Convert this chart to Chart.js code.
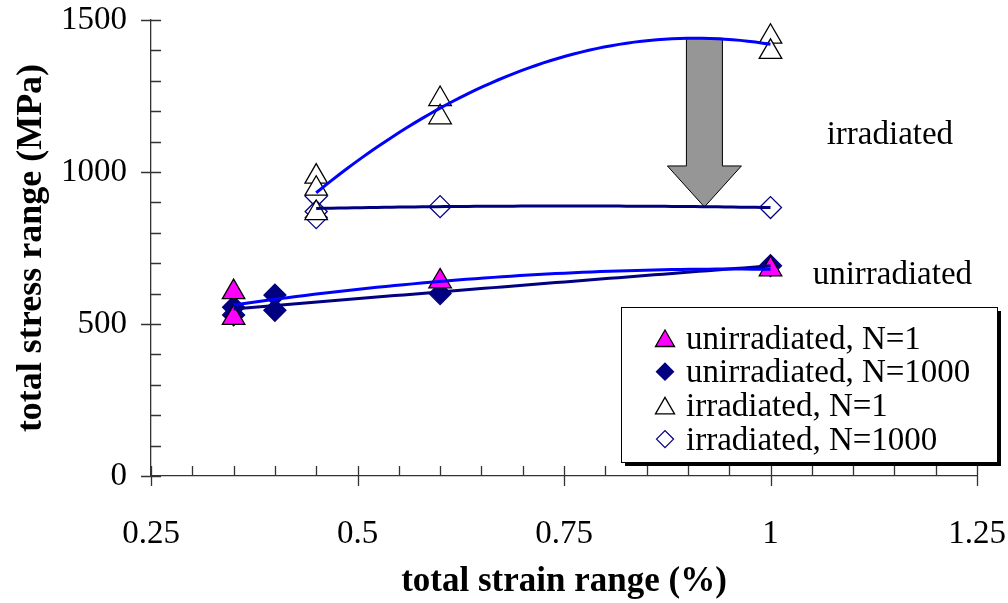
<!DOCTYPE html>
<html>
<head>
<meta charset="utf-8">
<script src="https://cdn.jsdelivr.net/npm/chart.js@4"></script>
<style>
  body { margin: 0; background: #fff; }
</style>
</head>
<body>
<canvas id="chart" width="1008" height="603"></canvas>
<script>
// values
const strainUnirrN1 = [0.35, 0.35, 0.6, 1.0];
const stressUnirrN1 = [605, 520, 640, 680];

const strainUnirrN1000 = [0.35, 0.35, 0.4, 0.4, 0.6, 1.0];
const stressUnirrN1000 = [555, 530, 595, 545, 600, 692];

const strainIrrN1 = [0.45, 0.45, 0.45, 0.6, 0.6, 1.0, 1.0];
const stressIrrN1 = [985, 945, 865, 1240, 1180, 1445, 1395];

const strainIrrN1000 = [0.45, 0.45, 0.45, 0.6, 1.0];
const stressIrrN1000 = [920, 870, 850, 886, 883];

const xTicks = [0.25, 0.5, 0.75, 1, 1.25];
const xTickLabels = ["0.25", "0.5", "0.75", "1", "1.25"];
const yTicks = [0, 500, 1000, 1500];
const yTickLabels = ["0", "500", "1000", "1500"];

const SERIF = "'Liberation Serif', 'Times New Roman', serif";

const toPoints = (xs, ys) => xs.map((x, i) => ({ x: x, y: ys[i] }));

// least squares polynomial, like the spreadsheet trendlines
const polyFit = (xs, ys, degree) => {
    const n = degree + 1;
    const A = Array.from({ length: n }, () => new Array(n).fill(0));
    const b = new Array(n).fill(0);
    xs.forEach((x, k) => {
        for (let i = 0; i < n; i++) {
            for (let j = 0; j < n; j++) A[i][j] += Math.pow(x, i + j);
            b[i] += ys[k] * Math.pow(x, i);
        }
    });
    for (let i = 0; i < n; i++) {
        for (let r = i + 1; r < n; r++) {
            const f = A[r][i] / A[i][i];
            for (let c = i; c < n; c++) A[r][c] -= f * A[i][c];
            b[r] -= f * b[i];
        }
    }
    const coef = new Array(n).fill(0);
    for (let i = n - 1; i >= 0; i--) {
        let s = b[i];
        for (let c = i + 1; c < n; c++) s -= A[i][c] * coef[c];
        coef[i] = s / A[i][i];
    }
    return coef;
};

const trendLine = (xs, ys, degree) => {
    const coef = polyFit(xs, ys, degree);
    const lo = Math.min(...xs);
    const hi = Math.max(...xs);
    const steps = 60;
    const pts = [];
    for (let s = 0; s <= steps; s++) {
        const x = lo + (hi - lo) * s / steps;
        pts.push({ x: x, y: coef.reduce((acc, c, i) => acc + c * Math.pow(x, i), 0) });
    }
    return pts;
};

const markerSet = (label, xs, ys, style, radius, fill, stroke) => ({
    label: label,
    type: "scatter",
    data: toPoints(xs, ys),
    pointStyle: style,
    pointRadius: radius,
    pointHoverRadius: radius,
    backgroundColor: fill,
    borderColor: stroke,
    pointBorderWidth: 1.3,
    order: 2,
    isMarker: true,
});

const trendSet = (xs, ys, color) => ({
    type: "line",
    data: trendLine(xs, ys, 2),
    borderColor: color,
    borderWidth: 3,
    pointRadius: 0,
    fill: false,
    tension: 0,
    order: 1,
});

const datasets = [
    markerSet("unirradiated, N=1", strainUnirrN1, stressUnirrN1, "triangle", 13, "#ff00ff", "#000000"),
    markerSet("unirradiated, N=1000", strainUnirrN1000, stressUnirrN1000, "rectRot", 11, "#000080", "#000080"),
    markerSet("irradiated, N=1", strainIrrN1, stressIrrN1, "triangle", 13, "#ffffff", "#000000"),
    markerSet("irradiated, N=1000", strainIrrN1000, stressIrrN1000, "rectRot", 11, "#ffffff", "#000080"),
    trendSet(strainUnirrN1, stressUnirrN1, "#0000ff"),
    trendSet(strainUnirrN1000, stressUnirrN1000, "#000080"),
    trendSet(strainIrrN1, stressIrrN1, "#0000ff"),
    trendSet(strainIrrN1000, stressIrrN1000, "#000080"),
];

const tickLabel = (ticks, labels) => (value) => {
    const i = ticks.findIndex(t => Math.abs(t - value) < 1e-6);
    return i >= 0 ? labels[i] : "";
};

// axis ticks (crossing majors, inside minors)
const axisTicks = {
    id: "axisTicks",
    afterDraw(chart) {
        const { ctx, chartArea, scales } = chart;
        ctx.save();
        ctx.strokeStyle = "#333";
        ctx.lineWidth = 1.3;
        ctx.beginPath();
        for (let i = 0; i <= 20; i++) {
            const v = 0.25 + i * 0.05;
            const px = Math.round(scales.x.getPixelForValue(v)) + 0.5;
            const major = i % 5 === 0;
            ctx.moveTo(px, chartArea.bottom - 10);
            ctx.lineTo(px, chartArea.bottom + (major ? 10 : 0));
        }
        for (let i = 0; i <= 15; i++) {
            const py = Math.round(scales.y.getPixelForValue(i * 100)) + 0.5;
            const major = i % 5 === 0;
            ctx.moveTo(chartArea.left - (major ? 10 : 0), py);
            ctx.lineTo(chartArea.left + 10, py);
        }
        ctx.stroke();
        ctx.restore();
    },
};

// grey arrow between the two irradiated curves
const arrowPlugin = {
    id: "arrow",
    beforeDatasetsDraw(chart, args, opts) {
        const { ctx, scales } = chart;
        const cx = scales.x.getPixelForValue(opts.x);
        const top = scales.y.getPixelForValue(opts.from);
        const tip = scales.y.getPixelForValue(opts.to);
        const shaft = 18, head = 37, headH = 41;
        ctx.save();
        ctx.beginPath();
        ctx.moveTo(cx - shaft, top);
        ctx.lineTo(cx + shaft, top);
        ctx.lineTo(cx + shaft, tip - headH);
        ctx.lineTo(cx + head, tip - headH);
        ctx.lineTo(cx, tip);
        ctx.lineTo(cx - head, tip - headH);
        ctx.lineTo(cx - shaft, tip - headH);
        ctx.closePath();
        ctx.fillStyle = "#969696";
        ctx.fill();
        ctx.strokeStyle = "#000";
        ctx.lineWidth = 1;
        ctx.stroke();
        ctx.restore();
    },
};

const notesPlugin = {
    id: "notes",
    afterDraw(chart, args, opts) {
        const { ctx, scales } = chart;
        ctx.save();
        ctx.font = "33px " + SERIF;
        ctx.fillStyle = "#000";
        ctx.textBaseline = "alphabetic";
        ctx.textAlign = "left";
        opts.items.forEach(n => {
            ctx.fillText(n.text, scales.x.getPixelForValue(n.x), scales.y.getPixelForValue(n.y));
        });
        ctx.restore();
    },
};

const boxLegend = {
    id: "boxLegend",
    afterDraw(chart, args, opts) {
        const { ctx } = chart;
        const items = chart.data.datasets.filter(d => d.isMarker);
        const { left, top, width, height } = opts;
        ctx.save();
        ctx.fillStyle = "#000";
        ctx.fillRect(left + 4, top + 4, width, height);
        ctx.fillStyle = "#fff";
        ctx.fillRect(left, top, width, height);
        ctx.strokeStyle = "#000";
        ctx.lineWidth = 1;
        ctx.strokeRect(left + 0.5, top + 0.5, width, height);
        ctx.font = "33px " + SERIF;
        ctx.textBaseline = "middle";
        items.forEach((d, i) => {
            const y = top + 31 + i * 33.7;
            ctx.fillStyle = d.backgroundColor;
            ctx.strokeStyle = d.borderColor;
            ctx.lineWidth = 1.3;
            const r = d.pointStyle === "triangle" ? 11 : 8.5;
            Chart.helpers.drawPoint(ctx, { pointStyle: d.pointStyle, radius: r, rotation: 0, borderWidth: 1.3 }, left + 44, y + (d.pointStyle === "triangle" ? 3 : 0));
            ctx.fillStyle = "#000";
            ctx.fillText(d.label, left + 65, y + 2);
        });
        ctx.restore();
    },
};

new Chart(document.getElementById("chart"), {
    type: "scatter",
    data: { datasets: datasets },
    plugins: [axisTicks, arrowPlugin, notesPlugin, boxLegend],
    options: {
        responsive: false,
        animation: false,
        devicePixelRatio: 1,
        layout: { padding: { top: 20, right: 31, left: 0, bottom: 0 } },
        plugins: {
            legend: { display: false },
            tooltip: { enabled: false },
            arrow: { x: 0.92, from: 1440, to: 885 },
            notes: {
                items: [
                    { text: "irradiated", x: 1.068, y: 1093 },
                    { text: "unirradiated", x: 1.051, y: 633 },
                ],
            },
            boxLegend: { left: 621, top: 307, width: 376, height: 155 },
        },
        scales: {
            x: {
                type: "linear",
                min: 0.25,
                max: 1.25,
                afterFit: (s) => { s.height = 127; s.paddingLeft = 0; s.paddingRight = 0; },
                afterBuildTicks: (s) => { s.ticks = xTicks.map(v => ({ value: v })); },
                grid: { display: false, drawTicks: false },
                border: { display: true, color: "#333", width: 1.3 },
                ticks: {
                    padding: 39,
                    color: "#000",
                    font: { family: SERIF, size: 33 },
                    maxRotation: 0,
                    callback: tickLabel(xTicks, xTickLabels),
                },
                title: {
                    display: true,
                    text: "total strain range (%)",
                    color: "#000",
                    font: { family: SERIF, size: 35, weight: "bold" },
                    padding: { top: 0, bottom: 0 },
                },
            },
            y: {
                type: "linear",
                min: 0,
                max: 1500,
                afterFit: (s) => { s.width = 151; s.paddingTop = 0; s.paddingBottom = 0; },
                afterBuildTicks: (s) => { s.ticks = yTicks.map(v => ({ value: v })); },
                grid: { display: false, drawTicks: false },
                border: { display: true, color: "#333", width: 1.3 },
                ticks: {
                    padding: 24,
                    color: "#000",
                    font: { family: SERIF, size: 33 },
                    callback: tickLabel(yTicks, yTickLabels),
                },
                title: {
                    display: true,
                    text: "total stress range (MPa)",
                    color: "#000",
                    font: { family: SERIF, size: 36, weight: "bold" },
                    padding: { top: 10, bottom: 0 },
                },
            },
        },
    },
});
</script>
</body>
</html>
